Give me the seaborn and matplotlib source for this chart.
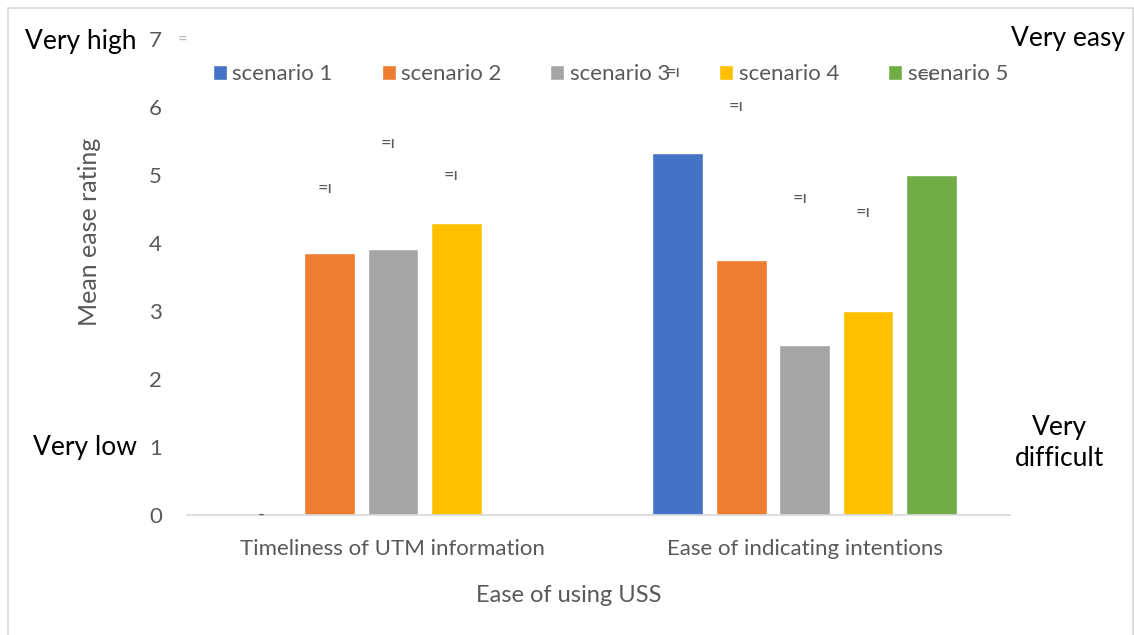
import matplotlib
matplotlib.use("Agg")
import matplotlib.pyplot as plt
import numpy as np
import pandas as pd
import seaborn as sns
from matplotlib.patches import Rectangle

# datos
categories = ["Timeliness of UTM information", "Ease of indicating intentions"]
scenarios = ["scenario 1", "scenario 2", "scenario 3", "scenario 4", "scenario 5"]
timeliness = [0.0, 3.85, 3.91, 4.29, np.nan]
intentions = [5.32, 3.75, 2.50, 3.00, 4.99]
# marcas pequenas sobre las barras (altura de la marca)
marks_timeliness = [0.0, 4.81, 5.47, 5.0, np.nan]
marks_intentions = [6.51, 6.01, 4.66, 4.46, 6.47]
colors = ["#4472C4", "#ED7D31", "#A5A5A5", "#FFC000", "#70AD47"]

rows = []
for cat, vals in zip(categories, [timeliness, intentions]):
    for sc, v in zip(scenarios, vals):
        rows.append({"category": cat, "scenario": sc, "rating": v})
df = pd.DataFrame(rows)

sns.set_style("white")
plt.rcParams["font.family"] = ["Lato", "DejaVu Sans"]
gray = "#595959"

fig = plt.figure(figsize=(11.34, 6.35), dpi=100)
ax = fig.add_axes([0.165, 0.189, 0.726, 0.750])

sns.barplot(data=df, x="category", y="rating", hue="scenario", order=categories,
            hue_order=scenarios, palette=colors, width=0.77, gap=0.2,
            saturation=1, ax=ax, legend=True)

ax.set_ylim(0, 7)
ax.set_xlim(-0.5, 1.5)
ax.set_yticks(range(8))
ax.tick_params(axis="both", length=0, labelsize=16, labelcolor=gray)
ax.tick_params(axis="x", pad=17)
ax.tick_params(axis="y", pad=18)
for s in ["top", "right", "left"]:
    ax.spines[s].set_visible(False)
ax.spines["bottom"].set_color("#D9D9D9")
ax.spines["bottom"].set_linewidth(1.2)
ax.set_ylabel("Mean ease rating", fontsize=18, color=gray)
ax.yaxis.set_label_coords(-0.105, 0.595)
ax.set_xlabel("Ease of using USS", fontsize=17, color=gray)
ax.xaxis.set_label_coords(0.464, -0.148)

# marcas
slot = 0.77 / len(scenarios)
for ci, marks in enumerate([marks_timeliness, marks_intentions]):
    for hi, m in enumerate(marks):
        if np.isnan(m):
            continue
        x = ci + (hi - 2) * slot - 0.012
        txt = "-" if m == 0 else "=ı"
        ax.text(x, m, txt, fontsize=13, color=gray, ha="center", va="center")
ax.text(-0.005, 1.0, "=", transform=ax.transAxes, fontsize=12, color="#BBBBBB",
        ha="center", va="center")

handles, labels = ax.get_legend_handles_labels()
ax.legend_.remove()
fig.legend(handles, labels, ncol=5, loc="center left", bbox_to_anchor=(0.170, 0.883),
           frameon=False, fontsize=16, labelcolor=gray, handlelength=0.63,
           handleheight=0.63, handletextpad=0.25, columnspacing=2.2)

fig.text(0.022, 0.934, "Very high", fontsize=19, color="black", va="center")
fig.text(0.029, 0.296, "Very low", fontsize=19, color="black", va="center")
fig.text(0.992, 0.940, "Very easy", fontsize=19, color="black", va="center", ha="right")
fig.text(0.934, 0.303, "Very\ndifficult", fontsize=19, color="black", va="center",
         ha="center", linespacing=1.3)

fig.patches.append(Rectangle((0.007, -0.01), 0.992, 0.997, transform=fig.transFigure,
                             fill=False, edgecolor="#D9D9D9", linewidth=1.2))

fig.savefig("out.png", dpi=100)
